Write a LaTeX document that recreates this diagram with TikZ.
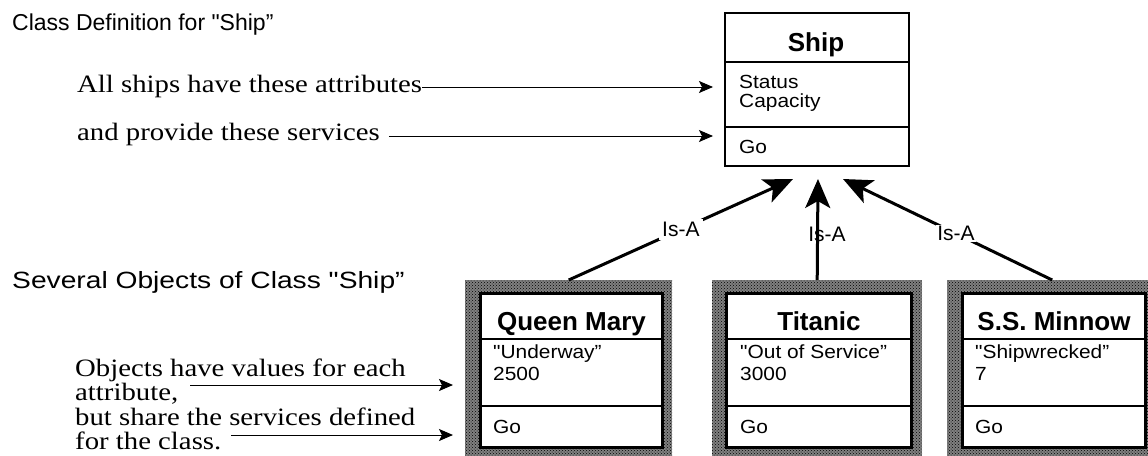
\documentclass[tikz,border=0pt]{standalone}
\usepackage{fontspec}
\setmainfont{Liberation Serif}
\newfontfamily\sansf{Liberation Sans}
\newfontfamily\sansb{Liberation Sans}[FakeStretch=1.1]
\newfontfamily\sansw{Liberation Sans}[FakeStretch=1.2]
\newfontfamily\serf{Liberation Serif}[FakeStretch=1.15]
\usetikzlibrary{arrows.meta,patterns}
\begin{document}
\begin{tikzpicture}[x=1pt,y=-1pt,
  headtxt/.style={font=\sansf\fontsize{23}{26}\selectfont, anchor=base west, inner sep=0},
  notetxt/.style={font=\serf\fontsize{25}{26}\selectfont, anchor=base west, inner sep=0},
  titletxt/.style={font=\sansf\bfseries\fontsize{26}{28}\selectfont, anchor=base, inner sep=0},
  bodytxt/.style={font=\sansb\fontsize{19}{22}\selectfont, anchor=base west, inner sep=0},
  isatxt/.style={font=\sansf\fontsize{21}{22}\selectfont, inner sep=3pt},
  classbox/.style={draw, line width=2pt, fill=white, anchor=north west, inner sep=0},
  objbox/.style={draw, line width=3pt, fill=white, anchor=north west, inner sep=0, minimum height=154pt},
  stipple/.style={preaction={fill=black!50}, pattern=crosshatch dots, pattern color=black,
                  anchor=north west, inner sep=0, minimum height=180pt},
  divline/.style={line width=1.6pt},
  thinarr/.style={line width=1pt, -{Stealth[length=14pt,width=12pt,inset=3pt]}},
  isarr/.style={line width=3pt, -{Stealth[length=29pt,width=25pt,inset=7pt]}},
]
\fill[white] (0,0) rectangle (1148,455);
\useasboundingbox (0,0) rectangle (1148,455);

% ---- class definition ----
\node[classbox, minimum width=184pt, minimum height=153pt] (ship) at (724,12) {};
\draw[divline] (ship.west |- 0,62) -- (ship.east |- 0,62);
\draw[divline] (ship.west |- 0,127) -- (ship.east |- 0,127);
\node[titletxt] (shipt) at (816,51) {Ship};
\node[bodytxt] (status) at (739,88) {Status};
\node[bodytxt] (capac) at (739,107) {Capacity};
\node[bodytxt] (shipgo) at (739,153) {Go};

\node[headtxt] (cdef) at (12,30) {Class Definition for "Ship”};
\node[notetxt] (allships) at (77,92) {All ships have these attributes};
\node[notetxt] (provide) at (77,140) {and provide these services};
\draw[thinarr, shorten >=11pt] (allships.east |- 0,87) -- (ship.west |- 0,87);
\draw[thinarr, shorten <=9pt, shorten >=11pt] (provide.east |- 0,136) -- (ship.west |- 0,136);

% ---- objects ----
\node[stipple, minimum width=207pt] (qmshade) at (465,280) {};
\node[objbox, minimum width=182pt] (qm) at (479,292) {};
\draw[divline] (qm.west |- 0,339) -- (qm.east |- 0,339);
\draw[divline] (qm.west |- 0,406) -- (qm.east |- 0,406);
\node[titletxt] (qmt) at (qm.north |- 0,330) {Queen Mary};
\node[bodytxt] (qm1) at (493,358) {"Underway”};
\node[bodytxt] (qm2) at (493,380) {2500};
\node[bodytxt] (qm3) at (493,433) {Go};

\node[stipple, minimum width=210pt] (tishade) at (712,280) {};
\node[objbox, minimum width=185pt] (ti) at (725,292) {};
\draw[divline] (ti.west |- 0,339) -- (ti.east |- 0,339);
\draw[divline] (ti.west |- 0,406) -- (ti.east |- 0,406);
\node[titletxt] (tit) at (ti.north |- 0,330) {Titanic};
\node[bodytxt] (ti1) at (740,358) {"Out of Service”};
\node[bodytxt] (ti2) at (740,380) {3000};
\node[bodytxt] (ti3) at (740,433) {Go};

\node[stipple, minimum width=210pt] (ssshade) at (947,280) {};
\node[objbox, minimum width=183pt] (ss) at (961,292) {};
\draw[divline] (ss.west |- 0,339) -- (ss.east |- 0,339);
\draw[divline] (ss.west |- 0,406) -- (ss.east |- 0,406);
\node[titletxt] (sst) at (ss.north |- 0,330) {S.S. Minnow};
\node[bodytxt] (ss1) at (975,358) {"Shipwrecked”};
\node[bodytxt] (ss2) at (975,380) {7};
\node[bodytxt] (ss3) at (975,433) {Go};

\node[headtxt, font=\sansw\fontsize{23.5}{26}\selectfont] (sev) at (12,288) {Several Objects of Class "Ship”};
\node[notetxt] (o1) at (75,376) {Objects have values for each};
\node[notetxt] (o2) at (75,400) {attribute,};
\node[notetxt] (o3) at (75,425) {but share the services defined};
\node[notetxt] (o4) at (75,449) {for the class.};
\draw[thinarr, shorten <=12pt, shorten >=12pt] (o2.east |- 0,385) -- (qmshade.west |- 0,385);
\draw[thinarr, shorten <=10pt, shorten >=12pt] (o4.east |- 0,435) -- (qmshade.west |- 0,435);

% ---- Is-A arrows ----
\coordinate (tl) at ([shift={(-24,12)}]ship.south);
\coordinate (tm) at ([shift={(1,12)}]ship.south);
\coordinate (tr) at ([shift={(26,12)}]ship.south);
\draw[isarr] (qmshade.north) -- node[isatxt, fill=white, pos=0.5] {Is-A} (tl);
\draw[isarr] (tishade.north) -- (tm);
\node[isatxt] (isam) at (827,234) {Is-A};
\draw[isarr] (ssshade.north) -- node[isatxt, fill=white, pos=0.46, inner sep=1pt] {Is-A} (tr);
\end{tikzpicture}
\end{document}
